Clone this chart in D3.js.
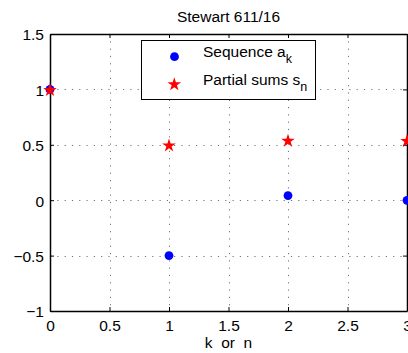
<!DOCTYPE html>
<html>
<head>
<meta charset="utf-8">
<script src="https://cdn.jsdelivr.net/npm/d3@7"></script>
<style>
  body { margin: 0; background: #fff; }
  text { font-family: "Liberation Sans", Arial, Helvetica, sans-serif; fill: #000; }
</style>
</head>
<body>
<div id="chart"></div>
<script>
// data
const kValues = [0, 1, 2, 3];
const sequenceA = [1, -0.5, 0.0417, -0.0014];
const partialS = [1, 0.5, 0.5417, 0.5403];
const xTicks = [0, 0.5, 1, 1.5, 2, 2.5, 3];
const yTicks = [-1, -0.5, 0, 0.5, 1, 1.5];

const fullWidth = 408;
const fullHeight = 353;
const margin = { top: 34, right: 1, bottom: 42, left: 50 };
const fontSize = 15.5;

const svg = d3.select("#chart")
  .append("svg")
  .attr("width", fullWidth)
  .attr("height", fullHeight);

const x = d3.scaleLinear().domain([0, 3]).range([margin.left, fullWidth - margin.right]);
const y = d3.scaleLinear().domain([-1, 1.5]).range([fullHeight - margin.bottom, margin.top]);

// === Grid ===
const grid = svg.append("g")
  .attr("stroke", "#000")
  .attr("stroke-opacity", 0.55)
  .attr("stroke-width", 1)
  .attr("stroke-dasharray", "1.2,6.1");

grid.selectAll("line.gx")
  .data(xTicks.slice(1, -1))
  .enter()
  .append("line")
  .attr("x1", d => Math.round(x(d)) + 0.5)
  .attr("x2", d => Math.round(x(d)) + 0.5)
  .attr("y1", y(1.5))
  .attr("y2", y(-1));

grid.selectAll("line.gy")
  .data(yTicks.slice(1, -1))
  .enter()
  .append("line")
  .attr("y1", d => Math.round(y(d)) + 0.5)
  .attr("y2", d => Math.round(y(d)) + 0.5)
  .attr("x1", x(0))
  .attr("x2", x(3));

// === Axes (MATLAB-style box, ticks inside) ===
const xAxis = svg.append("g")
  .attr("transform", `translate(0,${y(-1)})`)
  .call(d3.axisBottom(x).tickValues(xTicks).tickSizeInner(-4).tickSizeOuter(0)
    .tickPadding(9).tickFormat(d3.format("")));
const yAxis = svg.append("g")
  .attr("transform", `translate(${x(0)},0)`)
  .call(d3.axisLeft(y).tickValues(yTicks).tickSizeInner(-4).tickSizeOuter(0)
    .tickPadding(6).tickFormat(d => d3.format("")(d).replace("-", "\u2212")));
const xTop = svg.append("g")
  .attr("transform", `translate(0,${y(1.5)})`)
  .call(d3.axisTop(x).tickValues(xTicks).tickSizeInner(-4).tickSizeOuter(0).tickFormat(""));
const yRight = svg.append("g")
  .attr("transform", `translate(${x(3)},0)`)
  .call(d3.axisRight(y).tickValues(yTicks).tickSizeInner(-4).tickSizeOuter(0).tickFormat(""));

[xAxis, yAxis, xTop, yRight].forEach(g => {
  g.select(".domain").attr("stroke", "#000").attr("stroke-width", 1.5);
  g.selectAll(".tick line").attr("stroke", "#000");
});

xAxis.selectAll("text")
  .style("font-size", fontSize + "px")
  .attr("fill", "#000");
yAxis.selectAll("text")
  .style("font-size", fontSize + "px")
  .attr("fill", "#000")
  .attr("dy", "0.38em");

// === Markers ===
svg.append("g")
  .selectAll("circle")
  .data(kValues)
  .enter()
  .append("circle")
  .attr("cx", (d) => x(d))
  .attr("cy", (d, i) => y(sequenceA[i]))
  .attr("r", 4.4)
  .attr("fill", "#0000ff");

const star = d3.symbol().type(d3.symbolStar).size(58);
svg.append("g")
  .selectAll("path")
  .data(kValues)
  .enter()
  .append("path")
  .attr("d", star)
  .attr("transform", (d, i) => `translate(${x(d)},${y(partialS[i]) + 0.8})`)
  .attr("fill", "#ff0000");

// === Title & label ===
svg.append("text")
  .attr("x", (x(0) + x(3)) / 2)
  .attr("y", 21.7)
  .attr("text-anchor", "middle")
  .style("font-size", fontSize + "px")
  .text("Stewart 611/16");

svg.append("text")
  .attr("x", (x(0) + x(3)) / 2)
  .attr("y", 348.3)
  .attr("text-anchor", "middle")
  .style("font-size", fontSize + "px")
  .style("white-space", "pre")
  .text("k  or  n");

// === Legend ===
const legend = svg.append("g");
legend.append("rect")
  .attr("x", 141.5)
  .attr("y", 40.5)
  .attr("width", 174)
  .attr("height", 59)
  .attr("fill", "#fff")
  .attr("stroke", "#000")
  .attr("stroke-width", 1);

legend.append("circle")
  .attr("cx", 174.5)
  .attr("cy", 56.7)
  .attr("r", 4.4)
  .attr("fill", "#0000ff");
legend.append("path")
  .attr("d", star)
  .attr("transform", "translate(174.3,84.5)")
  .attr("fill", "#ff0000");

const l1 = legend.append("text")
  .attr("x", 203)
  .attr("y", 57.3)
  .style("font-size", fontSize + "px");
l1.append("tspan").text("Sequence a");
l1.append("tspan").attr("dy", 6).style("font-size", "12.5px").text("k");

const l2 = legend.append("text")
  .attr("x", 203)
  .attr("y", 84.7)
  .style("font-size", fontSize + "px");
l2.append("tspan").text("Partial sums s");
l2.append("tspan").attr("dy", 6).style("font-size", "12.5px").text("n");
</script>
</body>
</html>
